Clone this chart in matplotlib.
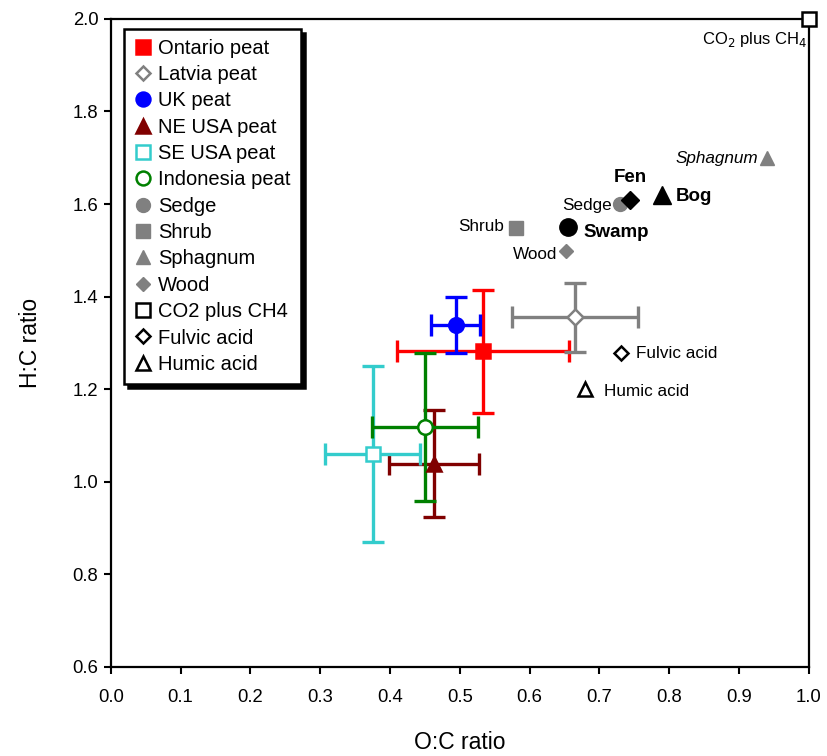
import matplotlib
matplotlib.use('Agg')
import matplotlib.pyplot as plt

plt.rcParams['font.family'] = ['Liberation Sans', 'DejaVu Sans']

# peat samples with error bars
peat_names = ['Ontario peat', 'Latvia peat', 'UK peat', 'NE USA peat', 'SE USA peat', 'Indonesia peat']
peat_oc = [0.533, 0.665, 0.494, 0.463, 0.375, 0.450]
peat_hc = [1.282, 1.355, 1.339, 1.039, 1.060, 1.119]
peat_oc_err = [0.123, 0.090, 0.035, 0.065, 0.068, 0.076]
peat_hc_err = [0.133, 0.075, 0.060, 0.115, 0.190, 0.160]
peat_marker = ['s', 'D', 'o', '^', 's', 'o']
peat_color = ['#ff0000', '#808080', '#0000ff', '#800000', '#33cccc', '#008000']
peat_filled = [True, False, True, True, False, False]

# plant material (grey)
plant_names = ['Sedge', 'Shrub', 'Sphagnum', 'Wood']
plant_oc = [0.729, 0.581, 0.940, 0.652]
plant_hc = [1.600, 1.549, 1.700, 1.499]
plant_marker = ['o', 's', '^', 'D']

# reference compounds (black open)
ref_names = ['CO2 plus CH4', 'Fulvic acid', 'Humic acid']
ref_oc = [1.0, 0.731, 0.680]
ref_hc = [2.0, 1.278, 1.200]
ref_marker = ['s', 'D', '^']

# peatland types (black filled)
type_names = ['Fen', 'Bog', 'Swamp']
type_oc = [0.744, 0.789, 0.655]
type_hc = [1.609, 1.620, 1.551]
type_marker = ['D', '^', 'o']

fig = plt.figure(figsize=(8.27, 7.56), dpi=100)
ax = fig.add_axes([0.134, 0.118, 0.844, 0.857])


def msize(m, base):
    return base * 0.75 if m == 'D' else base


handles = []
for i in range(len(peat_names)):
    face = peat_color[i] if peat_filled[i] else 'white'
    ax.errorbar(peat_oc[i], peat_hc[i], xerr=peat_oc_err[i], yerr=peat_hc_err[i],
                fmt='none', ecolor=peat_color[i], elinewidth=2.4, capsize=8, capthick=2.4, zorder=3)
    ax.plot(peat_oc[i], peat_hc[i], marker=peat_marker[i], ms=msize(peat_marker[i], 10.5), mfc=face,
            mec=peat_color[i], mew=1.8, ls='none', zorder=4)
    h, = ax.plot([], [], marker=peat_marker[i], ms=msize(peat_marker[i], 10), mfc=face,
                 mec=peat_color[i], mew=1.8, ls='none', label=peat_names[i])
    handles.append(h)

for i in range(len(plant_names)):
    ax.plot(plant_oc[i], plant_hc[i], marker=plant_marker[i], ms=msize(plant_marker[i], 10),
            color='#808080', ls='none', zorder=4)
    h, = ax.plot([], [], marker=plant_marker[i], ms=msize(plant_marker[i], 10), color='#808080',
                 ls='none', label=plant_names[i])
    handles.append(h)

for i in range(len(ref_names)):
    ax.plot(ref_oc[i], ref_hc[i], marker=ref_marker[i], ms=msize(ref_marker[i], 10), mfc='white',
            mec='black', mew=1.8, ls='none', zorder=5, clip_on=False)
    h, = ax.plot([], [], marker=ref_marker[i], ms=msize(ref_marker[i], 10), mfc='white', mec='black',
                 mew=1.8, ls='none', label=ref_names[i])
    handles.append(h)

for i in range(len(type_names)):
    ax.plot(type_oc[i], type_hc[i], marker=type_marker[i], ms=msize(type_marker[i], 12.5),
            color='black', ls='none', zorder=5)

# point labels (offsets in points, va centred)
def label(txt, xy, dx, dy, ha='left', **kw):
    ax.annotate(txt, xy, xytext=(dx, dy), textcoords='offset points', ha=ha, va='center', **kw)


label('Fen', (type_oc[0], type_hc[0]), -11.5, 15.8, fontsize=13.5, fontweight='bold')
label('Bog', (type_oc[1], type_hc[1]), 10, -1.4, fontsize=13.5, fontweight='bold')
label('Swamp', (type_oc[2], type_hc[2]), 10.8, -4.3, fontsize=13.5, fontweight='bold')
label('Sedge', (plant_oc[0], plant_hc[0]), -5.8, -1.4, ha='right', fontsize=12.3)
label('Shrub', (plant_oc[1], plant_hc[1]), -8.6, 0.7, ha='right', fontsize=12.3)
label('Sphagnum', (plant_oc[2], plant_hc[2]), -6.5, -0.7, ha='right', fontsize=12.3, style='italic')
label('Wood', (plant_oc[3], plant_hc[3]), -6.5, -2.9, ha='right', fontsize=12.3)
label('CO$_2$ plus CH$_4$', (ref_oc[0], ref_hc[0]), -0.7, -15, ha='right', fontsize=12)
label('Fulvic acid', (ref_oc[1], ref_hc[1]), 10.8, -0.7, fontsize=12.3)
label('Humic acid', (ref_oc[2], ref_hc[2]), 13, -1.4, fontsize=12.3)

ax.set_xlim(0, 1.0)
ax.set_ylim(0.6, 2.0)
ax.set_xticks([i / 10 for i in range(11)])
ax.set_yticks([0.6 + 0.2 * i for i in range(8)])
ax.xaxis.set_major_formatter(plt.FormatStrFormatter('%.1f'))
ax.yaxis.set_major_formatter(plt.FormatStrFormatter('%.1f'))
ax.tick_params(direction='out', length=5, width=1.5, labelsize=13.3, pad=11)
ax.tick_params(axis='y', pad=4)
for s in ax.spines.values():
    s.set_linewidth(1.6)
ax.set_xlabel('O:C ratio', fontsize=16.5, labelpad=18)
ax.set_ylabel('H:C ratio', fontsize=16.5, labelpad=22)

leg = ax.legend(handles=handles, loc='upper left', bbox_to_anchor=(0.0185, 0.985),
                prop={'size': 14.5}, frameon=True, fancybox=False,
                shadow={'color': 'black', 'alpha': 1, 'ox': 3, 'oy': -3},
                handlelength=0.9, handletextpad=0.3, labelspacing=0.365, borderpad=0.5,
                borderaxespad=0, framealpha=1)
leg.get_frame().set_edgecolor('black')
leg.get_frame().set_linewidth(1.8)

fig.savefig('out.png', dpi=100)
